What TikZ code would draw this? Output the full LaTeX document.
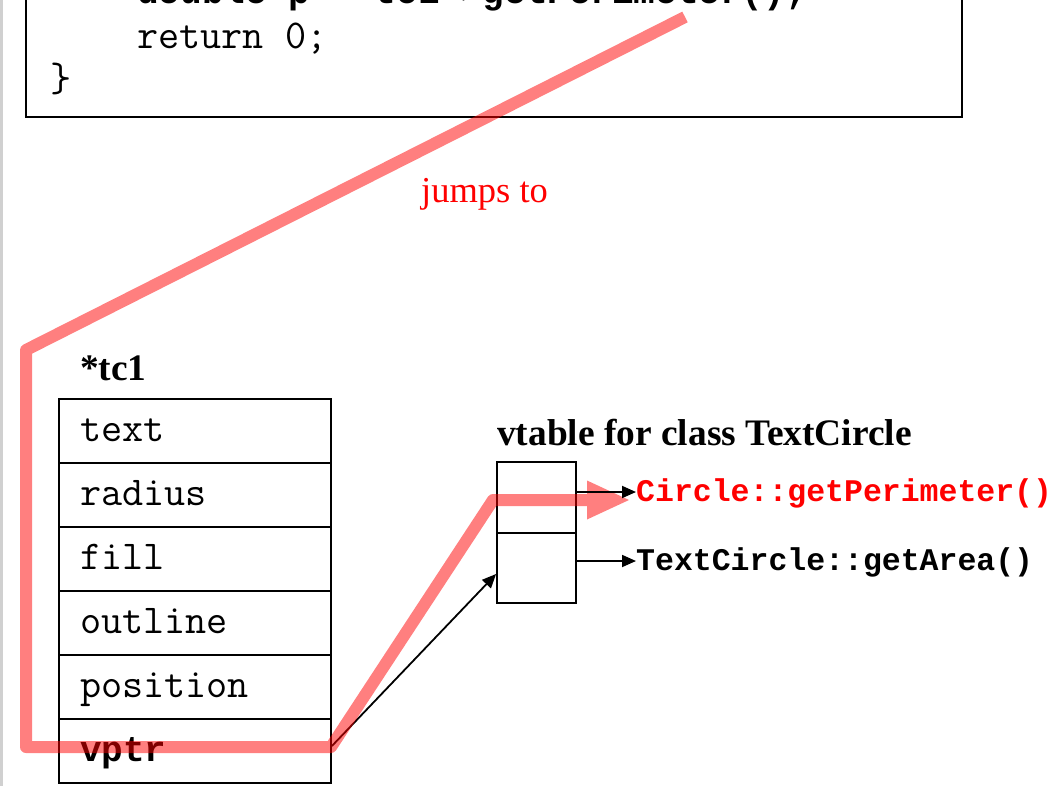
\documentclass[tikz,border=0pt]{standalone}
\usepackage{fontspec}
\setmainfont{Liberation Serif}
\newfontfamily\cbold{Liberation Mono}
\usetikzlibrary{arrows.meta}
\definecolor{hlred}{RGB}{255,0,0}
\definecolor{sidegray}{RGB}{208,208,208}
\begin{document}
\begin{tikzpicture}[x=1pt,y=-1pt,
  box/.style={draw=black,line width=1.8pt},
  field/.style={box,minimum height=64pt,text width=230pt,inner xsep=21pt,inner ysep=0pt,
    align=left,text height=24pt,text depth=4pt,font=\fontsize{41}{44}\selectfont\ttfamily},
  cell/.style={box,minimum width=79pt,inner sep=0pt},
  code/.style={anchor=base west,inner sep=0pt,font=\fontsize{41}{44}\selectfont\ttfamily},
  boldcode/.style={font=\fontsize{36}{40}\selectfont\cbold\bfseries},
  fn/.style={anchor=west,inner sep=0pt,text height=18pt,text depth=0pt,
    font=\fontsize{31.5}{34}\selectfont\cbold\bfseries},
  title/.style={anchor=base west,inner sep=0pt,font=\fontsize{37.4}{40}\selectfont\bfseries},
  arr/.style={line width=1.8pt,-{Triangle[length=14pt,width=12pt]}},
  jump/.style={draw=hlred,line width=12pt,line join=round,line cap=butt}
]
\useasboundingbox (0,0) rectangle (1058,786);
\clip (0,0) rectangle (1058,786);
\fill[white] (0,0) rectangle (1058,786);
% left gray rule
\draw[sidegray,line width=2.5pt] (1.5,0) -- (1.5,786);
% code box
\node[box,minimum width=936pt,minimum height=250pt,inner sep=0pt] (codebox) at (494,-8) {};
\node[code,boldcode] (l1) at (137,4) {double p = tc1->getPerimeter();};
\node[code] (l2) at (137,49) {return 0;};
\node[code] (l3) at (50,92) {\}};
% jumps to
\node[anchor=base west,inner sep=0pt,text=hlred,font=\fontsize{36.5}{40}\selectfont] (jt) at (421,203) {jumps to};
% tc1 object
\node[title] (tcl) at (80,381) {*tc1};
\node[field] (r1) at (195,431) {text};
\node[field] (r2) at (195,495) {radius};
\node[field] (r3) at (195,559) {fill};
\node[field] (r4) at (195,623) {outline};
\node[field] (r5) at (195,687) {position};
\node[field,boldcode] (r6) at (195,751) {vptr};
% vtable
\node[title] (vtl) at (497,445) {vtable for class TextCircle};
\node[cell,minimum height=71pt] (v1) at (536.5,497.5) {};
\node[cell,minimum height=70pt] (v2) at (536.5,568) {};
\node[fn,text=hlred] (cp) at (636,492) {Circle::getPerimeter()};
\node[fn] (ga) at (636,561) {TextCircle::getArea()};
\draw[arr] (v2.east |- ga.west) -- (ga.west);
\draw[arr] (r6.east) ++(0,-5) -- ([yshift=-6pt]v2.west);
% red jump path
\coordinate (j0) at (685,17);
\coordinate (j1) at (26,350);
\coordinate (j2) at (26,747);
\coordinate (j3) at (331,747);
\coordinate (j4) at (493,500);
\coordinate (j5) at (588,500);
\coordinate (j6) at (629,500);
\coordinate (ta) at (587,480.5);
\coordinate (tb) at (587,519.5);
\begin{scope}[transparency group,opacity=0.5]
  \draw[jump] (j0) -- (j1) -- (j2) -- (j3) -- (j4) -- (j5);
  \fill[hlred] (ta) -- (j6) -- (tb) -- cycle;
\end{scope}
\draw[arr] (v1.east |- cp.west) -- (cp.west);
\end{tikzpicture}
\end{document}
